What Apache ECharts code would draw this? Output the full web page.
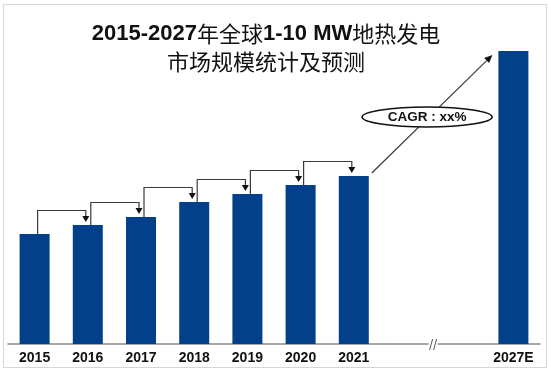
<!DOCTYPE html>
<html><head><meta charset="utf-8">
<script src="https://cdn.jsdelivr.net/npm/echarts@6/dist/echarts.min.js"></script>
<style>html,body{margin:0;padding:0;background:#fff}#c{width:550px;height:371px}</style>
</head><body><div id="c"></div>
<script>
const categories = ['2015','2016','2017','2018','2019','2020','2021','','','2027E'];
const values = [110, 119, 127, 142, 150, 159, 168, null, null, 293];
const cagrLabel = 'CAGR : xx%';
const titleLine1 = ['2015-2027', '年全球', '1-10 MW', '地热发电'];
const titleLine2 = '市场规模统计及预测';

// connector pairs between consecutive historical years
const steps = [];
for (let i = 0; i < 6; i++) steps.push([i, values[i], i + 1, values[i + 1]]);

const chart = echarts.init(document.getElementById('c'), null, {renderer: 'canvas'});
const lineColor = '#3a3a3a';

chart.setOption({
  animation: false,
  backgroundColor: '#fff',
  title: {
    text: '{b|' + titleLine1[0] + '}{c|' + titleLine1[1] + '}{b|' + titleLine1[2] + '}{c|' + titleLine1[3] + '}\n{c|' + titleLine2 + '}',
    left: 261, top: 15, textAlign: 'center',
    textStyle: {
      lineHeight: 28,
      rich: {
        b: {fontFamily: 'Liberation Sans', fontWeight: 'bold', fontSize: 22, color: '#111', lineHeight: 28},
        c: {fontFamily: 'Noto Sans CJK SC', fontWeight: 'normal', fontSize: 22, color: '#111', lineHeight: 28}
      }
    }
  },
  graphic: [{
    type: 'rect', shape: {x: 3.5, y: 4.5, width: 543, height: 363},
    style: {fill: 'none', stroke: '#d6d6d6', lineWidth: 1}, silent: true, z: -1
  }],
  grid: {left: 8, right: 10, top: 44, bottom: 27},
  xAxis: {
    type: 'category', data: categories,
    axisLine: {lineStyle: {color: '#8a8a8a', width: 1.5}},
    axisTick: {show: false},
    axisLabel: {fontFamily: 'Liberation Sans', fontWeight: 'bold', fontSize: 14, color: '#111', margin: 7, interval: 0}
  },
  yAxis: {type: 'value', min: 0, max: 300, show: false, splitLine: {show: false}},
  series: [{
    type: 'bar', data: values, barWidth: 30,
    itemStyle: {color: '#02408a'}, z: 2
  }, {
    type: 'custom', data: steps, z: 3, clip: false,
    renderItem: function (params, api) {
      const p0 = api.coord([api.value(0), api.value(1)]);
      const p1 = api.coord([api.value(2), api.value(3)]);
      const sx = p0[0] + 3, ex = p1[0] - 2;
      const hy = p1[1] - 14.5;
      const tip = p1[1] - 3;
      return {
        type: 'group', children: [{
          type: 'polyline',
          shape: {points: [[sx, p0[1]], [sx, hy], [ex, hy], [ex, tip - 5]]},
          style: {stroke: lineColor, lineWidth: 1.2, fill: 'none'}
        }, {
          type: 'polygon',
          shape: {points: [[ex - 3.5, tip - 6], [ex + 3.5, tip - 6], [ex, tip]]},
          style: {fill: '#111'}
        }]
      };
    }
  }, {
    type: 'custom', data: [[6, values[6], 9, values[9]]], z: 4, clip: false,
    renderItem: function (params, api) {
      const a = api.coord([api.value(0), api.value(1)]);
      const b = api.coord([api.value(2), api.value(3)]);
      const sx = a[0] + 18, sy = a[1] - 3;
      const ex = b[0] - 21, ey = b[1] + 4;
      const ang = Math.atan2(ey - sy, ex - sx);
      const L = 8, W = 3.5;
      const bx = ex - L * Math.cos(ang), by = ey - L * Math.sin(ang);
      const nx = -Math.sin(ang) * W, ny = Math.cos(ang) * W;
      const mx = (sx + ex) / 2 - 5, my = (sy + ey) / 2 + 3;
      // axis break mark between the last historical slot and the forecast
      const c7 = api.coord([7, 0]), c8 = api.coord([8, 0]);
      const kx = (c7[0] + c8[0]) / 2, ky = c7[1];
      return {
        type: 'group', children: [{
          type: 'line', shape: {x1: sx, y1: sy, x2: bx, y2: by},
          style: {stroke: lineColor, lineWidth: 1.2}
        }, {
          type: 'polygon',
          shape: {points: [[ex, ey], [bx + nx, by + ny], [bx - nx, by - ny]]},
          style: {fill: '#111'}
        }, {
          type: 'ellipse', shape: {cx: mx, cy: my, rx: 65, ry: 10},
          style: {fill: '#fff', stroke: '#111', lineWidth: 1.6}
        }, {
          type: 'text', x: mx, y: my + 0.5,
          style: {text: cagrLabel, fill: '#111', font: 'bold 13.5px "Liberation Sans"', align: 'center', verticalAlign: 'middle'}
        }, {
          type: 'rect', shape: {x: kx - 5, y: ky - 5, width: 9, height: 10},
          style: {fill: '#fff'}
        }, {
          type: 'line', shape: {x1: kx - 4, y1: ky + 6, x2: kx - 1, y2: ky - 5},
          style: {stroke: '#555', lineWidth: 1}
        }, {
          type: 'line', shape: {x1: kx + 0, y1: ky + 6, x2: kx + 3, y2: ky - 5},
          style: {stroke: '#555', lineWidth: 1}
        }]
      };
    }
  }]
});
</script>
</body></html>
